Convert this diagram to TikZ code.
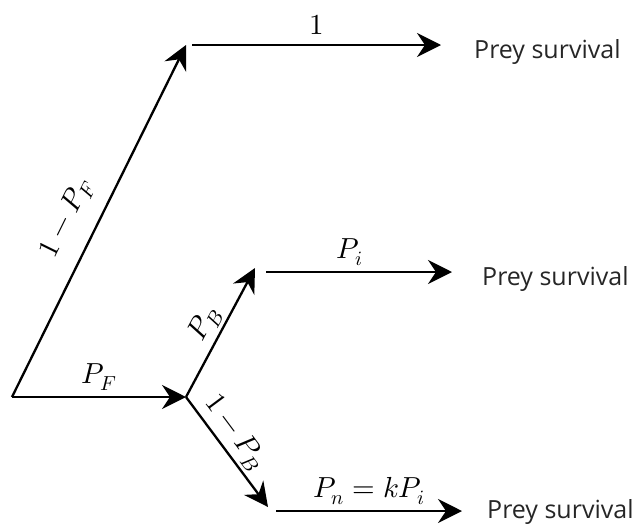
\documentclass[tikz,border=0pt]{standalone}
\usepackage{fontspec}
\usepackage{unicode-math}
\setmainfont{Open Sans}
\setmathfont{Latin Modern Math}
\usetikzlibrary{arrows.meta}
\begin{document}
\begin{tikzpicture}[x=1pt,y=-1pt,
  arr/.style={line width=2.3pt,-{Stealth[length=24pt,width=24pt,inset=8pt]}},
  prey/.style={font=\fontsize{25}{30}\selectfont,text=black!85,inner sep=0pt,anchor=base west},
  lab/.style={font=\fontsize{29}{34}\selectfont,inner sep=3pt}]
\useasboundingbox (0,0) rectangle (636,525);
\coordinate (O) at (12,397);
\coordinate (J) at (186,397);
\coordinate (T1) at (186,45);
\coordinate (S1) at (192,45);
\coordinate (E1) at (441,45);
\coordinate (T2) at (255,268);
\coordinate (S2) at (266,272);
\coordinate (E2) at (452,272);
\coordinate (T3) at (268,507);
\coordinate (S3) at (276,511);
\coordinate (E3) at (462,511);
\node[prey] (L1) at (474,58) {Prey survival};
\node[prey] (L2) at (482,285) {Prey survival};
\node[prey] (L3) at (487,518) {Prey survival};
\draw[arr] (O) -- (J) node[lab,midway,above=2pt] {$P_F$};
\draw[arr] (O) -- (T1) node[lab,pos=0.47,sloped,above=12pt] {$1-P_F$};
\draw[arr] (S1) -- (E1) node[lab,midway,above=6pt] {$1$};
\draw[arr] (J) -- (T2) node[lab,midway,sloped,above] {$P_B$};
\draw[arr] (S2) -- (E2) node[lab,pos=0.45,above=2pt] {$P_i$};
\draw[arr] (J) -- (T3) node[lab,pos=0.42,sloped,above] {$1-P_B$};
\draw[arr] (S3) -- (E3) node[lab,midway,above=2pt] {$P_n=kP_i$};
\end{tikzpicture}
\end{document}
